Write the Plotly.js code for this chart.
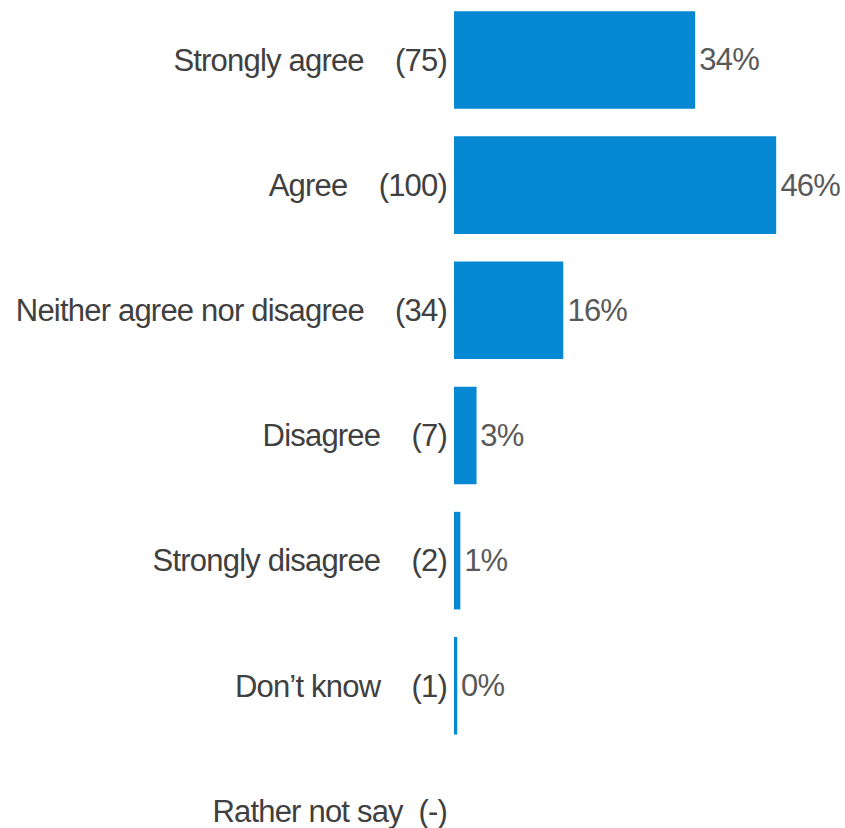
<!DOCTYPE html>
<html>
<head>
<meta charset="utf-8">
<script src="https://cdn.plot.ly/plotly-3.0.1.min.js"></script>
<style>
  html, body { margin: 0; padding: 0; background: #fff; }
  #chart { width: 845px; height: 828px; }
  #chart text { letter-spacing: -0.8px; }
</style>
</head>
<body>
<div id="chart"></div>
<script>
const categories = ["Strongly agree", "Agree", "Neither agree nor disagree", "Disagree", "Strongly disagree", "Don\u2019t know", "Rather not say"];
const counts = ["(75)", "(100)", "(34)", "(7)", "(2)", "(1)", "(-)"];
const gaps = [4, 4, 4, 4, 4, 4, 2];
const percentValues = [34.2, 45.7, 15.5, 3.2, 0.9, 0.46, null];
const percentLabels = ["34%", "46%", "16%", "3%", "1%", "0%", ""];

const tickText = categories.map((c, i) => c + "\u00A0".repeat(gaps[i]) + counts[i]);
const yIdx = categories.map((c, i) => i);

const trace = {
  type: "bar",
  orientation: "h",
  x: percentValues,
  y: yIdx,
  text: percentLabels,
  textposition: "outside",
  cliponaxis: false,
  textfont: { family: "Liberation Sans, Arial, sans-serif", size: 31, color: "#595959" },
  marker: { color: "#0788d3", line: { width: 0 } },
  width: 0.78,
  hoverinfo: "none"
};

const layout = {
  width: 845,
  height: 828,
  margin: { l: 454, r: 0, t: 0, b: 0, pad: 0 },
  paper_bgcolor: "#ffffff",
  plot_bgcolor: "#ffffff",
  showlegend: false,
  font: { family: "Liberation Sans, Arial, sans-serif", size: 31, color: "#404040" },
  xaxis: {
    range: [0, 55.46],
    visible: false,
    fixedrange: true
  },
  yaxis: {
    range: [6.136, -0.479],
    tickmode: "array",
    tickvals: yIdx,
    ticktext: tickText,
    showgrid: false,
    zeroline: false,
    showline: false,
    ticks: "",
    ticklabelstandoff: 6,
    ticklabeloverflow: "allow",
    automargin: false,
    tickfont: { family: "Liberation Sans, Arial, sans-serif", size: 31, color: "#404040" },
    fixedrange: true
  }
};

Plotly.newPlot("chart", [trace], layout, { displayModeBar: false, staticPlot: true });
</script>
</body>
</html>
